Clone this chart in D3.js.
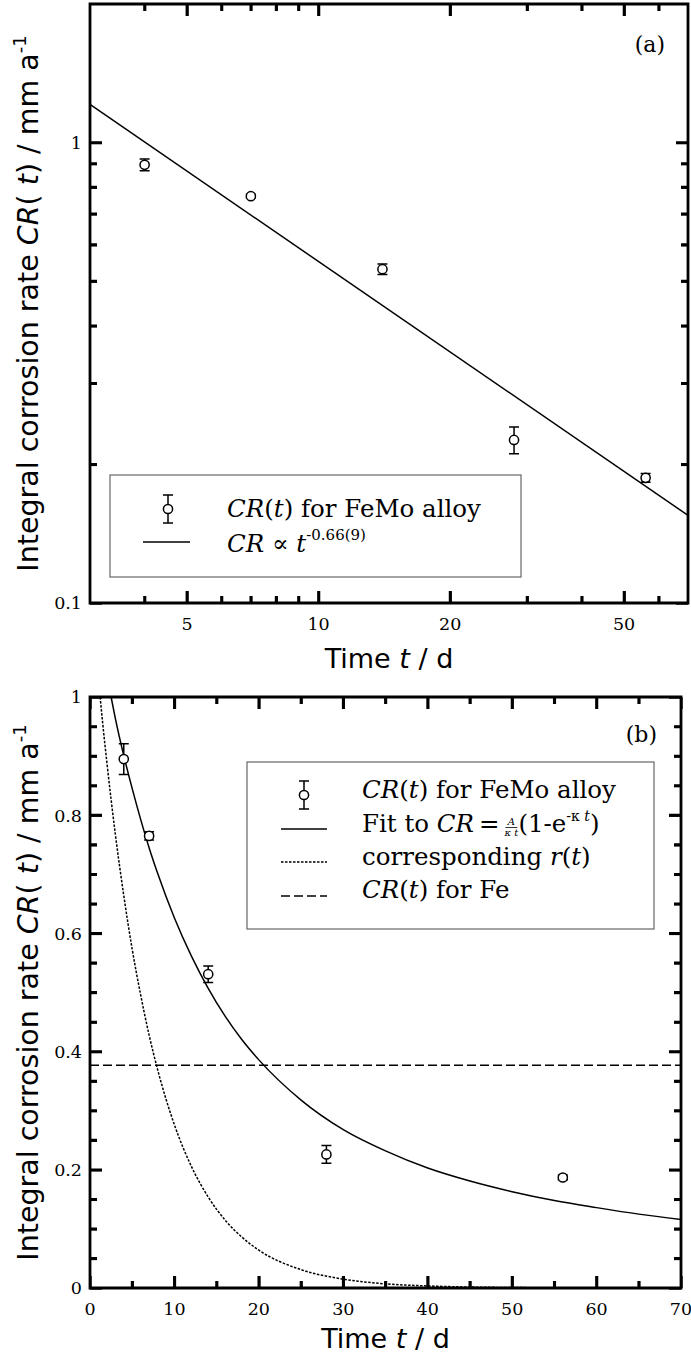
<!DOCTYPE html>
<html>
<head>
<meta charset="utf-8">
<script src="https://cdn.jsdelivr.net/npm/d3@7"></script>
<style>
  body { margin: 0; background: #fff; }
  #wrap { position: relative; width: 691px; height: 1363px; }
  #wrap svg { position: absolute; left: 0; top: 0; }
</style>
</head>
<body>
<div id="wrap">
<svg id="chart" width="691" height="1363"></svg>
<svg id="tickLayer" width="691" height="1363"></svg>
</div>
<script>
// measured integral corrosion rate of the FeMo alloy (mm/a) vs time (d)
const days = [4, 7, 14, 28, 56];
const crFeMo = [0.895, 0.765, 0.531, 0.226, 0.187];
const crErr = [0.026, 0.007, 0.014, 0.015, 0.004];

// power law line of panel (a), end points
const powT = [3, 70];
const powCR = [1.21, 0.155];

// fit curve of panel (b) (enters at the top edge)
const fitT = [2.5, 3, 4, 5, 6, 7, 8, 10, 12, 14, 16, 18, 20, 25, 30, 35, 40, 45, 50, 55, 60, 65, 70];
const fitCR = [1.0, 0.964, 0.901, 0.845, 0.793, 0.745, 0.702, 0.626, 0.562, 0.507, 0.460, 0.420, 0.386, 0.318, 0.268, 0.232, 0.203, 0.181, 0.163, 0.148, 0.136, 0.125, 0.116];

// corresponding r(t)
const rT = [1.2, 1.5, 2, 3, 4, 5, 6, 7, 8, 10, 12, 14, 16, 18, 20, 25, 30, 35, 40, 50, 60, 70];
const rVal = [1.0, 0.956, 0.889, 0.768, 0.664, 0.573, 0.496, 0.428, 0.370, 0.276, 0.206, 0.154, 0.115, 0.086, 0.064, 0.031, 0.015, 0.007, 0.0035, 0.0008, 0.0002, 0.00004];

// CR(t) for pure Fe
const feT = [0, 70];
const feCR = [0.377, 0.377];

// ticks
const aXMajor = [5, 10, 20, 50];
const aXMinor = [4, 6, 7, 8, 9, 30, 40, 60];
const aYMajor = [0.1, 1];
const aYMinor = [0.2, 0.3, 0.4, 0.5, 0.6, 0.7, 0.8, 0.9];
const bXMajor = [0, 10, 20, 30, 40, 50, 60, 70];
const bXMinor = [5, 15, 25, 35, 45, 55, 65];
const bYMajor = [0, 0.2, 0.4, 0.6, 0.8, 1];
const bYMinor = [0.05, 0.1, 0.15, 0.25, 0.3, 0.35, 0.45, 0.5, 0.55, 0.65, 0.7, 0.75, 0.85, 0.9, 0.95];

const svg = d3.select("#chart");
const over = d3.select("#tickLayer");
svg.append("rect").attr("width", 691).attr("height", 1363).attr("fill", "#fff");

const serif = "DejaVu Serif", sans = "DejaVu Sans";
const points = days.map((t, i) => ({t: t, v: crFeMo[i], e: crErr[i]}));

// frame outline + inward ticks in one path, labels bottom/left
function frame(g, x, y, w, h, xMaj, xMin, yMaj, yMin, xFmt, yFmt) {
  const big = 12, small = 7;
  const xt = xMaj.map(v => ({v: v, s: big})).concat(xMin.map(v => ({v: v, s: small})));
  const yt = yMaj.map(v => ({v: v, s: big})).concat(yMin.map(v => ({v: v, s: small})));

  const lab = g.append("g").attr("font-family", serif).attr("font-size", 17.5).attr("fill", "#000");
  lab.selectAll(".xl").data(xMaj).join("text")
    .attr("x", d => x(d)).attr("y", h + 27).attr("text-anchor", "middle").text(xFmt);
  lab.selectAll(".ylab").data(yMaj).join("text")
    .attr("x", -8).attr("y", d => y(d)).attr("dy", "0.36em").attr("text-anchor", "end").text(yFmt);

  let d = `M0,0H${w}V${h}H0Z`;
  xt.forEach(t => { d += `M${x(t.v).toFixed(2)},${h}V${h - t.s}M${x(t.v).toFixed(2)},0V${t.s}`; });
  yt.forEach(t => { d += `M0,${y(t.v).toFixed(2)}H${t.s}M${w},${y(t.v).toFixed(2)}H${w - t.s}`; });
  g.append("path").attr("d", d)
    .attr("fill", "none").attr("stroke", "#000").attr("stroke-width", 2.8);
}

// the same ticks once more with d3 axes in an overlay layer
function axesOverlay(ox, oy, x, y, w, h, xMaj, xMin, yMaj, yMin) {
  const g = over.append("g").attr("transform", `translate(${ox},${oy})`);
  const sets = [[xMaj, 12], [xMin, 7]];
  sets.forEach(([vals, s]) => {
    g.append("g").attr("transform", `translate(0,${h})`)
      .call(d3.axisBottom(x).tickValues(vals).tickSize(-s).tickFormat(() => ""));
    g.append("g")
      .call(d3.axisTop(x).tickValues(vals).tickSize(-s).tickFormat(() => ""));
  });
  [[yMaj, 12], [yMin, 7]].forEach(([vals, s]) => {
    g.append("g")
      .call(d3.axisLeft(y).tickValues(vals).tickSize(-s).tickFormat(() => ""));
    g.append("g").attr("transform", `translate(${w},0)`)
      .call(d3.axisRight(y).tickValues(vals).tickSize(-s).tickFormat(() => ""));
  });
  g.selectAll(".domain").remove();
  g.selectAll(".tick line").attr("stroke", "#000").attr("stroke-width", 2.4);
}

function titles(g, w, h, xBase) {
  const xt = g.append("text").attr("x", w / 2).attr("y", xBase)
    .attr("text-anchor", "middle").attr("font-family", sans).attr("font-size", 27);
  xt.append("tspan").text("Time ");
  xt.append("tspan").attr("font-style", "italic").text("t");
  xt.append("tspan").text(" / d");

  const yt = g.append("text")
    .attr("transform", `translate(-52,${h / 2}) rotate(-90)`)
    .attr("text-anchor", "middle").attr("font-family", sans).attr("font-size", 28.5);
  yt.append("tspan").text("Integral corrosion rate ");
  yt.append("tspan").attr("font-style", "italic").text("CR");
  yt.append("tspan").text("( ");
  yt.append("tspan").attr("font-style", "italic").text("t");
  yt.append("tspan").text(") / mm a");
  yt.append("tspan").attr("font-size", 18).attr("dy", -12).text("-1");
}

function errPoints(g, x, y) {
  const p = g.append("g").attr("stroke", "#000").attr("stroke-width", 1.5).attr("fill", "none");
  p.selectAll(".bar").data(points).join("path")
    .attr("d", d => {
      const cx = x(d.t), y1 = y(d.v + d.e), y2 = y(d.v - d.e);
      return `M${cx - 5},${y1}H${cx + 5}M${cx},${y1}V${y2}M${cx - 5},${y2}H${cx + 5}`;
    });
  p.selectAll("circle").data(points).join("circle")
    .attr("cx", d => x(d.t)).attr("cy", d => y(d.v)).attr("r", 4.6)
    .attr("fill", "#fff");
}

function legendSymbol(g, cx, cy) {
  g.append("path")
    .attr("d", `M${cx - 5},${cy - 14}H${cx + 5}M${cx},${cy - 14}V${cy + 14}M${cx - 5},${cy + 14}H${cx + 5}`)
    .attr("stroke", "#000").attr("stroke-width", 1.5);
  g.append("circle").attr("cx", cx).attr("cy", cy).attr("r", 4.6)
    .attr("fill", "#fff").attr("stroke", "#000").attr("stroke-width", 1.5);
}

function crText(g, x, yb, rest) {
  const t = g.append("text").attr("x", x).attr("y", yb)
    .attr("font-family", serif).attr("font-size", 24.5);
  t.append("tspan").attr("font-style", "italic").text("CR");
  t.append("tspan").text("(");
  t.append("tspan").attr("font-style", "italic").text("t");
  t.append("tspan").text(")" + rest);
  return t;
}

// ---------- panel (a): log-log ----------
const aL = 90, aT = 4, aW = 598, aH = 599;
const ga = svg.append("g").attr("transform", `translate(${aL},${aT})`);
const xa = d3.scaleLog().domain([3, 70]).range([0, aW]);
const ya = d3.scaleLog().domain([0.1, 2]).range([aH, 0]);

ga.append("path")
  .datum(powT.map((t, i) => [t, powCR[i]]))
  .attr("d", d3.line().x(d => xa(d[0])).y(d => ya(d[1])))
  .attr("fill", "none").attr("stroke", "#000").attr("stroke-width", 1.5);
errPoints(ga, xa, ya);

// legend (a)
const la = svg.append("g");
la.append("rect").attr("x", 110).attr("y", 475).attr("width", 411).attr("height", 102)
  .attr("fill", "#fff").attr("stroke", "#666").attr("stroke-width", 1.2);
legendSymbol(la, 168, 509);
crText(la, 227, 517, " for FeMo alloy");
la.append("path").attr("d", "M143,542H190").attr("stroke", "#000").attr("stroke-width", 1.5);
const pw = la.append("text").attr("x", 227).attr("y", 551.5)
  .attr("font-family", serif).attr("font-size", 24.5);
pw.append("tspan").attr("font-style", "italic").text("CR");
pw.append("tspan").text(" \u221D ");
pw.append("tspan").attr("font-style", "italic").text("t");
pw.append("tspan").attr("font-size", 15).attr("dy", -12).text("-0.66(9)");

frame(ga, xa, ya, aW, aH, aXMajor, aXMinor, aYMajor, aYMinor, d3.format("d"), d => d === 1 ? "1" : "0.1");
axesOverlay(aL, aT, xa, ya, aW, aH, aXMajor, aXMinor, aYMajor, aYMinor);
ga.append("text").attr("x", 575).attr("y", 48).attr("text-anchor", "end")
  .attr("font-family", serif).attr("font-size", 22).text("(a)");
titles(ga, aW, aH, 664);

// ---------- panel (b): linear ----------
const bL = 90, bT = 697, bW = 591, bH = 591;
const gb = svg.append("g").attr("transform", `translate(${bL},${bT})`);
const xb = d3.scaleLinear().domain([0, 70]).range([0, bW]);
const yb = d3.scaleLinear().domain([0, 1]).range([bH, 0]);

const lineB = d3.line().x(d => xb(d[0])).y(d => yb(d[1])).curve(d3.curveMonotoneX);
gb.append("path").datum(feT.map((t, i) => [t, feCR[i]]))
  .attr("d", lineB)
  .attr("fill", "none").attr("stroke", "#000").attr("stroke-width", 1.5)
  .attr("stroke-dasharray", "9,4");
gb.append("path").datum(rT.map((t, i) => [t, rVal[i]]))
  .attr("d", lineB)
  .attr("fill", "none").attr("stroke", "#000").attr("stroke-width", 1.5)
  .attr("stroke-dasharray", "2.5,1.5");
gb.append("path").datum(fitT.map((t, i) => [t, fitCR[i]]))
  .attr("d", lineB)
  .attr("fill", "none").attr("stroke", "#000").attr("stroke-width", 1.5);
errPoints(gb, xb, yb);

// legend (b)
const lb = svg.append("g");
lb.append("rect").attr("x", 247).attr("y", 762).attr("width", 407).attr("height", 167)
  .attr("fill", "#fff").attr("stroke", "#666").attr("stroke-width", 1.2);
legendSymbol(lb, 304, 795);
crText(lb, 362, 798, " for FeMo alloy");
lb.append("path").attr("d", "M281,829H327").attr("stroke", "#000").attr("stroke-width", 1.5);
const fit1 = lb.append("text").attr("x", 362).attr("y", 832)
  .attr("font-family", serif).attr("font-size", 24.5);
fit1.append("tspan").text("Fit to ");
fit1.append("tspan").attr("font-style", "italic").text("CR");
fit1.append("tspan").text("\u2009=\u2009");
const fx = 362 + fit1.node().getComputedTextLength() + 1;
lb.append("text").attr("x", fx + 6).attr("y", 825).attr("text-anchor", "middle")
  .attr("font-family", serif).attr("font-style", "italic").attr("font-size", 10).text("A");
lb.append("path").attr("d", `M${fx},827.5H${fx + 12}`).attr("stroke", "#000").attr("stroke-width", 0.8);
lb.append("text").attr("x", fx + 6).attr("y", 836).attr("text-anchor", "middle")
  .attr("font-family", serif).attr("font-style", "italic").attr("font-size", 10).text("\u03BA t");
const fit2 = lb.append("text").attr("x", fx + 13).attr("y", 832)
  .attr("font-family", serif).attr("font-size", 24.5);
fit2.append("tspan").text("(1-e");
fit2.append("tspan").attr("font-size", 14).attr("dy", -11).text("-\u03BA ");
fit2.append("tspan").attr("font-size", 14).attr("font-style", "italic").text("t");
fit2.append("tspan").attr("dy", 11).text(")");

lb.append("path").attr("d", "M281,862H327").attr("stroke", "#000").attr("stroke-width", 1.5)
  .attr("stroke-dasharray", "2.5,1.5");
const corr = lb.append("text").attr("x", 362).attr("y", 865)
  .attr("font-family", serif).attr("font-size", 24.5);
corr.append("tspan").text("corresponding ");
corr.append("tspan").attr("font-style", "italic").text("r");
corr.append("tspan").text("(");
corr.append("tspan").attr("font-style", "italic").text("t");
corr.append("tspan").text(")");

lb.append("path").attr("d", "M281,896H327").attr("stroke", "#000").attr("stroke-width", 1.5)
  .attr("stroke-dasharray", "9,4");
crText(lb, 362, 898, " for Fe");

frame(gb, xb, yb, bW, bH, bXMajor, bXMinor, bYMajor, bYMinor, d3.format("d"), d => String(+d.toFixed(1)));
axesOverlay(bL, bT, xb, yb, bW, bH, bXMajor, bXMinor, bYMajor, bYMinor);
gb.append("text").attr("x", 567).attr("y", 45).attr("text-anchor", "end")
  .attr("font-family", serif).attr("font-size", 22).text("(b)");
titles(gb, bW, bH, 651);
</script>
</body>
</html>
